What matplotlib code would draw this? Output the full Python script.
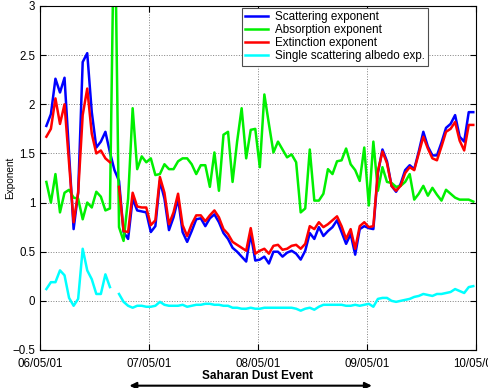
import numpy as np
import pandas as pd
import matplotlib
matplotlib.use('Agg')
import matplotlib.pyplot as plt
import matplotlib.dates as mdates
from matplotlib.ticker import FuncFormatter, MultipleLocator

plt.rcParams['font.family'] = ['Liberation Sans', 'DejaVu Sans']

# hourly measurements, 06/05/01 - 10/05/01
times = pd.date_range('2001-05-06 01:24', periods=95, freq='h')

scattering = [1.78, 1.90, 2.26, 2.12, 2.27, 1.50, 0.73, 1.10, 2.43, 2.52,
              1.92, 1.56, 1.62, 1.72, 1.51, 1.33, 1.22, 0.70, 0.63,
              1.04, 0.92, 0.91, 0.90, 0.70, 0.76, 1.22, 1.04, 0.72, 0.85, 1.04, 0.70,
              0.60, 0.71, 0.83, 0.84, 0.76, 0.84, 0.88, 0.80, 0.69,
              0.63, 0.54, 0.50, 0.45, 0.40, 0.68, 0.41, 0.42, 0.45, 0.38,
              0.50, 0.50, 0.45, 0.49, 0.51, 0.48, 0.42, 0.51, 0.69, 0.63,
              0.75, 0.66, 0.71, 0.75, 0.82, 0.70, 0.58, 0.68, 0.47, 0.73,
              0.76, 0.74, 0.73, 1.30, 1.54, 1.42, 1.17, 1.11, 1.19, 1.33,
              1.38, 1.34, 1.52, 1.72, 1.57, 1.48, 1.48, 1.61, 1.76, 1.80,
              1.89, 1.67, 1.62, 1.92, 1.92]

absorption = [1.21, 1.00, 1.29, 0.90, 1.10, 1.13, 1.05, 1.04, 0.83, 1.00,
              0.95, 1.11, 1.06, 0.92, 0.94, 4.20, 0.75, 0.61, 1.04, 1.96,
              1.34, 1.47, 1.41, 1.45, 1.28, 1.29, 1.39, 1.34, 1.34, 1.42,
              1.45, 1.45, 1.39, 1.29, 1.38, 1.38, 1.16, 1.51, 1.12,
              1.69, 1.72, 1.21, 1.62, 1.96, 1.45, 1.74, 1.75, 1.36, 2.10,
              1.80, 1.51, 1.62, 1.54, 1.46, 1.49, 1.41, 0.90, 0.94, 1.54, 1.02,
              1.02, 1.09, 1.34, 1.29, 1.42, 1.43, 1.55, 1.39, 1.33, 1.22,
              1.56, 0.97, 1.62, 1.12, 1.36, 1.21, 1.20, 1.16, 1.17,
              1.21, 1.29, 1.03, 1.09, 1.17, 1.07, 1.15, 1.08, 1.02, 1.13,
              1.09, 1.05, 1.03, 1.03, 1.03, 1.01]

extinction = [1.67, 1.75, 2.06, 1.80, 2.00, 1.40, 0.80, 1.10, 1.89, 2.16,
              1.70, 1.50, 1.53, 1.45, 1.41, np.nan, 1.16, 0.71, 0.70, 1.10,
              0.96, 0.95, 0.95, 0.77, 0.82, 1.26, 1.10, 0.78, 0.90, 1.09, 0.77,
              0.66, 0.78, 0.87, 0.87, 0.81, 0.87, 0.92, 0.85, 0.73,
              0.68, 0.60, 0.57, 0.54, 0.51, 0.74, 0.48, 0.51, 0.53, 0.48,
              0.56, 0.57, 0.52, 0.53, 0.56, 0.57, 0.53, 0.58, 0.76, 0.73,
              0.80, 0.75, 0.78, 0.82, 0.86, 0.76, 0.63, 0.73, 0.53, 0.76,
              0.80, 0.75, 0.76, 1.32, 1.52, 1.40, 1.17, 1.12, 1.17, 1.30,
              1.36, 1.33, 1.50, 1.67, 1.55, 1.45, 1.43, 1.57, 1.72, 1.75,
              1.82, 1.63, 1.53, 1.79, 1.79]

albedo = [0.12, 0.19, 0.19, 0.31, 0.26, 0.03, -0.05, 0.02, 0.53, 0.31,
          0.22, 0.07, 0.07, 0.27, 0.14, np.nan, 0.07, -0.01, -0.05, -0.07,
          -0.05, -0.05, -0.06, -0.06, -0.05, -0.01, -0.04, -0.05, -0.05, -0.05,
          -0.04, -0.06, -0.05, -0.04, -0.04, -0.03, -0.03, -0.04, -0.04, -0.05,
          -0.05, -0.07, -0.07, -0.08, -0.08, -0.07, -0.08, -0.08, -0.07, -0.07,
          -0.07, -0.07, -0.07, -0.07, -0.07, -0.08, -0.10, -0.08, -0.07, -0.09,
          -0.06, -0.04, -0.04, -0.04, -0.04, -0.04, -0.05, -0.05, -0.04, -0.05,
          -0.04, -0.03, -0.06,
          0.02, 0.03, 0.03, 0.00, -0.01, 0.00, 0.01, 0.02, 0.04, 0.05,
          0.07, 0.06, 0.05, 0.07, 0.07, 0.08, 0.09, 0.12, 0.10, 0.08,
          0.14, 0.15]

labels = ['Scattering exponent', 'Absorption exponent',
          'Extinction exponent', 'Single scattering albedo exp.']
colors = ['#0000ff', '#00f000', '#ff0000', '#00ffff']

# span of the dust event (arrow under the axis)
event_start = pd.Timestamp('2001-05-06 19:05')
event_end = pd.Timestamp('2001-05-09 01:40')

fig = plt.figure(figsize=(4.89, 3.88), dpi=100)
ax = fig.add_axes([40 / 489, 1 - 350 / 388, 436 / 489, 344 / 388])

for series, lab, col in zip([scattering, absorption, extinction, albedo], labels, colors):
    ax.plot(times, series, color=col, lw=1.8, label=lab)

ax.set_xlim(pd.Timestamp('2001-05-06'), pd.Timestamp('2001-05-10'))
ax.set_ylim(-0.5, 3)
ax.xaxis.set_major_locator(mdates.DayLocator())
ax.xaxis.set_major_formatter(mdates.DateFormatter('%d/%m/%y'))
ax.yaxis.set_major_locator(MultipleLocator(0.5))
ax.yaxis.set_major_formatter(FuncFormatter(lambda v, p: f'{v:g}'.replace('-', '\u2212')))
ax.grid(True, linestyle=':', color='0.5', lw=0.7)
ax.tick_params(direction='in', top=True, right=True, length=4, labelsize=8.3)
ax.tick_params(axis='x', pad=6)
for s in ax.spines.values():
    s.set_linewidth(0.8)

ax.set_xlabel('Saharan Dust Event', fontweight='bold', fontsize=8.5, labelpad=0)
ax.set_ylabel('Exponent', fontsize=7.2)
ax.yaxis.set_label_coords(-0.058, 0.5)

leg = ax.legend(loc='upper right', bbox_to_anchor=(0.89, 0.995), borderaxespad=0,
                fontsize=8.4, fancybox=False, framealpha=1, edgecolor='0.3',
                handlelength=1.9, handletextpad=0.6, labelspacing=0.08,
                borderpad=0.3)
leg.get_frame().set_linewidth(0.8)

ax.annotate('', xy=(event_end, 0.006), xytext=(event_start, 0.006),
            xycoords=('data', 'figure fraction'), textcoords=('data', 'figure fraction'),
            arrowprops=dict(arrowstyle='<|-|>', color='k', lw=1.5, mutation_scale=10),
            annotation_clip=False)

fig.savefig('out.png', dpi=100)
